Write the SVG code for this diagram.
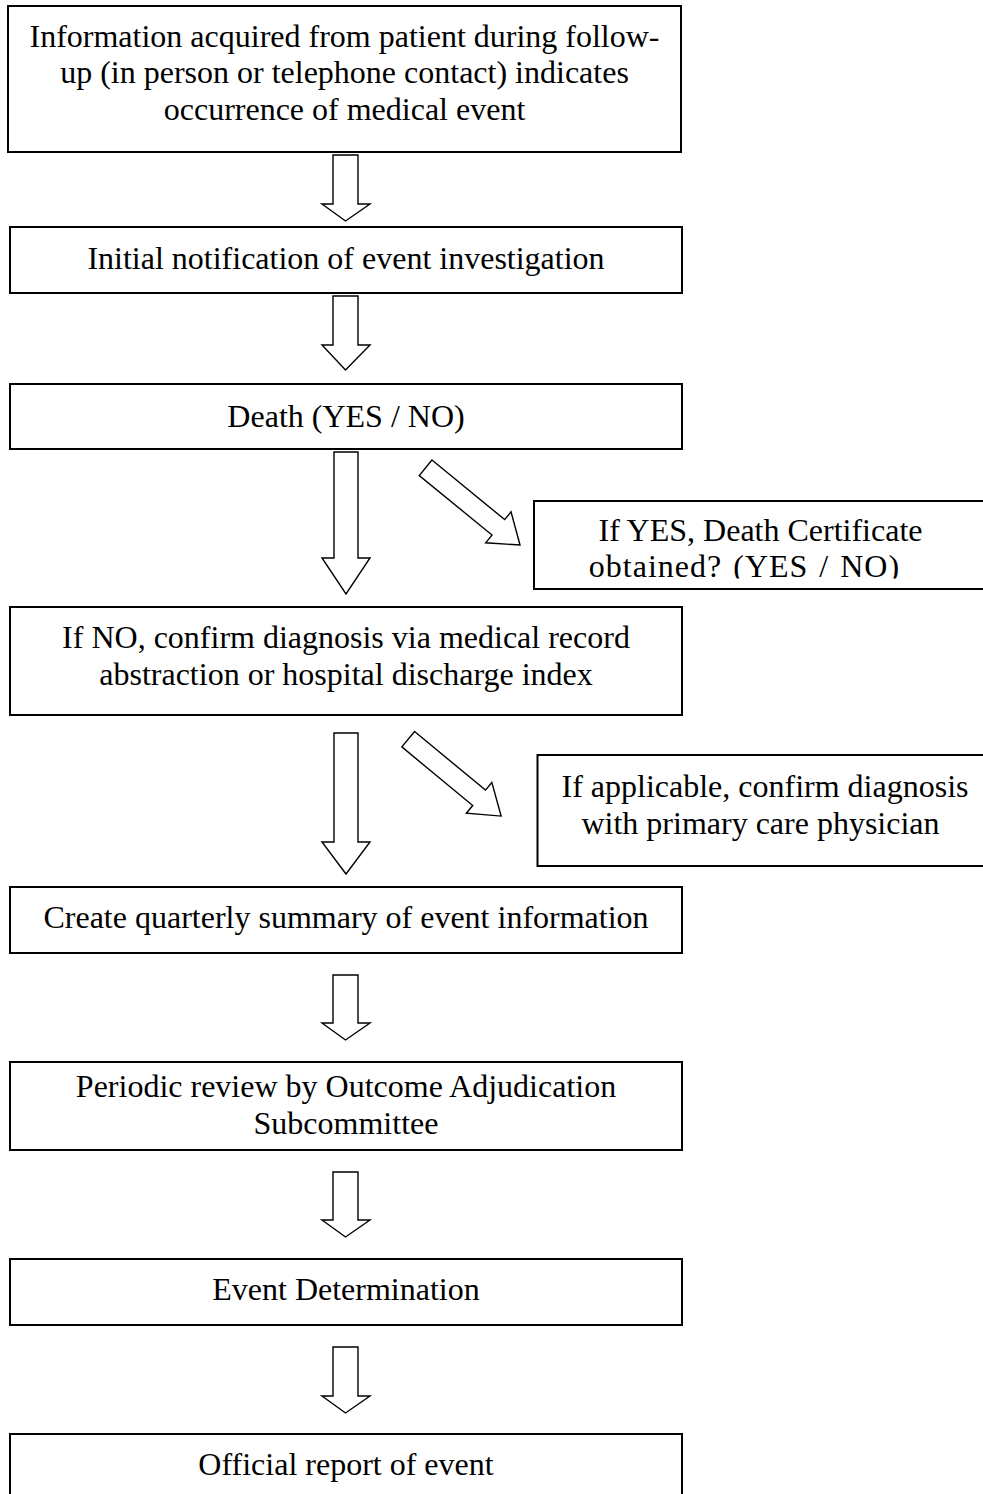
<svg xmlns="http://www.w3.org/2000/svg" width="983" height="1494" viewBox="0 0 983 1494">
<style>
.box{fill:#fff;stroke:#000;stroke-width:2}
.arr{fill:#fff;stroke:#000;stroke-width:1.4;stroke-linejoin:miter}
text{font-family:"Liberation Serif","Times New Roman",serif;font-size:32px;fill:#000;text-anchor:middle}
</style>
<defs>
<clipPath id="clipR1"><rect x="530" y="495" width="460" height="83.5"/></clipPath>
</defs>
<rect width="983" height="1494" fill="#fff"/>
<g id="connectors">
<path class="arr" d="M333,155 H358 V204 H370 L345.5,221 L322,204 H333 Z"/>
<path class="arr" d="M333,296 H358 V345 H370 L345.5,370 L322,345 H333 Z"/>
<path class="arr" d="M334,452 H358 V558 H370 L346,594 L322,558 H334 Z"/>
<path class="arr" d="M334,733 H358 V842 H370 L346,874 L322,842 H334 Z"/>
<path class="arr" d="M333,975 H358 V1023 H370 L345.5,1040 L322,1023 H333 Z"/>
<path class="arr" d="M333,1172 H358 V1220 H370 L345.5,1237 L322,1220 H333 Z"/>
<path class="arr" d="M333,1347 H358 V1396 H370 L345.5,1413 L322,1396 H333 Z"/>
<path class="arr" transform="translate(425.6,467.8) rotate(39.3)" d="M0,-10 H94 V-20 L122,0 L94,20 V10 H0 Z"/>
<path class="arr" transform="translate(408.2,739.2) rotate(39.6)" d="M0,-10 H92 V-20 L120.6,0 L92,20 V10 H0 Z"/>
</g>
<g id="n1">
<rect class="box" x="8" y="6" width="673" height="146"/>
<text x="344.5" y="46.5">Information acquired from patient during follow-</text>
<text x="344.5" y="83">up (in person or telephone contact) indicates</text>
<text x="344.5" y="119.5">occurrence of medical event</text>
</g>
<g id="n2">
<rect class="box" x="10" y="227" width="672" height="66"/>
<text x="346" y="269">Initial notification of event investigation</text>
</g>
<g id="n3">
<rect class="box" x="10" y="384" width="672" height="65"/>
<text x="346" y="427">Death (YES / NO)</text>
</g>
<g id="n3b">
<rect class="box" x="534" y="501" width="460" height="88"/>
<text x="760.5" y="541">If YES, Death Certificate</text>
<text x="744.5" y="577" letter-spacing="1" word-spacing="2" clip-path="url(#clipR1)">obtained? (YES / NO)</text>
</g>
<g id="n4">
<rect class="box" x="10" y="607" width="672" height="108"/>
<text x="346" y="648">If NO, confirm diagnosis via medical record</text>
<text x="346" y="685">abstraction or hospital discharge index</text>
</g>
<g id="n4b">
<rect class="box" x="537.5" y="755" width="460" height="111"/>
<text x="765" y="797">If applicable, confirm diagnosis</text>
<text x="760.5" y="834">with primary care physician</text>
</g>
<g id="n5">
<rect class="box" x="10" y="887" width="672" height="66"/>
<text x="346" y="928">Create quarterly summary of event information</text>
</g>
<g id="n6">
<rect class="box" x="10" y="1062" width="672" height="88"/>
<text x="346" y="1097">Periodic review by Outcome Adjudication</text>
<text x="346" y="1134">Subcommittee</text>
</g>
<g id="n7">
<rect class="box" x="10" y="1259" width="672" height="66"/>
<text x="346" y="1300">Event Determination</text>
</g>
<g id="n8">
<rect class="box" x="10" y="1434" width="672" height="80"/>
<text x="346" y="1475">Official report of event</text>
</g>
</svg>
